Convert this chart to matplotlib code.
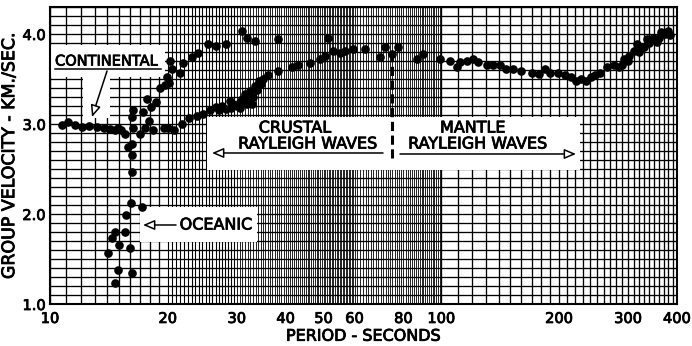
import numpy as np
import matplotlib
matplotlib.use("Agg")
import matplotlib.pyplot as plt
import matplotlib.patheffects as pe
from matplotlib.patches import Polygon, Rectangle

plt.rcParams['font.family'] = ['DejaVu Sans']

# ---------------- data (period s, group velocity km/s) ----------------
cont_period = [10.7, 11.1, 11.6, 12.05, 12.6, 13.15, 13.7, 14.2, 14.66, 14.95, 15.2, 15.55,
               17.0, 17.5, 18.3, 19.5, 20.0, 20.7, 21.7, 22.6, 23.7, 24.6, 25.6, 26.6,
               27.0, 27.5, 28.2, 28.8, 29.0, 29.4, 30.0, 30.5, 30.6, 31.0, 31.5, 31.8,
               32.0, 32.4, 32.8, 33.0, 33.4, 33.8, 34.1, 34.5, 35.1, 36.1, 38.3, 41.5,
               43.1, 46.1, 48.9, 50.4, 53.0]
cont_vel = [2.99, 3.02, 2.99, 2.97, 2.98, 2.97, 2.95, 2.94, 2.93, 2.96, 2.93, 2.89,
            2.89, 2.95, 2.93, 2.95, 2.96, 2.93, 3.00, 3.07, 3.09, 3.11, 3.15, 3.19,
            3.15, 3.20, 3.17, 3.26, 3.18, 3.22, 3.20, 3.18, 3.24, 3.28, 3.33, 3.22,
            3.28, 3.37, 3.22, 3.30, 3.42, 3.38, 3.48, 3.44, 3.50, 3.54, 3.59, 3.63,
            3.66, 3.68, 3.72, 3.76, 3.81]

fast_period = [17.7, 17.9, 18.1, 18.7, 19.1, 19.7, 19.9, 20.1, 20.2, 20.45, 21.5, 21.85,
               23.0, 23.9, 25.4, 26.6, 28.2, 30.9, 31.9, 33.4, 38.3, 51.4]
fast_vel = [3.28, 3.03, 3.19, 3.24, 3.40, 3.43, 3.52, 3.46, 3.70, 3.61, 3.57, 3.68,
            3.74, 3.79, 3.89, 3.87, 3.89, 4.03, 3.96, 3.92, 3.94, 3.95]

ocean_period = [16.2, 16.3, 17.3, 16.3, 15.85, 16.2, 16.2, 16.2, 16.1, 17.2, 15.6, 14.65,
                15.55, 14.4, 15.0, 14.1, 16.0, 14.95, 16.2, 14.66]
ocean_vel = [3.08, 3.16, 3.13, 2.95, 2.74, 2.78, 2.66, 2.47, 2.12, 2.08, 1.99, 1.80,
             1.80, 1.73, 1.65, 1.57, 1.62, 1.38, 1.34, 1.23]

mantle_period = [55.1, 56.8, 59.5, 63.9, 69.6, 71.8, 74.6, 77.6, 86.5, 89.9, 99.4, 105.5,
                 109.5, 111.8, 116.2, 120.8, 124.4, 130.6, 135.7, 141.0, 146.5, 152.3,
                 159.6, 170.6, 177.3, 184.2, 189.5, 198.9, 206.6, 214.6, 220.7, 227.1,
                 233.7, 240.6, 247.5, 254.8, 265.5, 276.1, 284.3, 290.0, 292.6, 300.0,
                 301.2, 310.0, 315.9, 320.0, 325.1, 330.0, 334.6, 340.0, 347.5, 354.6,
                 360.0, 365.0, 372.1, 380.0, 385.0]
mantle_vel = [3.79, 3.81, 3.83, 3.83, 3.74, 3.85, 3.78, 3.85, 3.72, 3.78, 3.72, 3.70,
              3.63, 3.69, 3.70, 3.72, 3.69, 3.65, 3.66, 3.65, 3.61, 3.61,
              3.59, 3.57, 3.56, 3.61, 3.57, 3.57, 3.54, 3.52, 3.48, 3.50,
              3.48, 3.52, 3.54, 3.57, 3.63, 3.66, 3.63, 3.65, 3.72, 3.70,
              3.76, 3.81, 3.89, 3.80, 3.85, 3.86, 3.94, 3.90, 3.96, 3.91,
              3.95, 4.02, 4.00, 4.03, 3.99]

xticks = [10, 20, 30, 40, 50, 60, 80, 100, 200, 300, 400]
xtick_labels = ["10", "20", "30", "40", "50", "60", "80", "100", "200", "300", "400"]
yticks = [1.0, 2.0, 3.0, 4.0]
ytick_labels = ["1.0", "2.0", "3.0", "4.0"]
boundary_period = 75

# ---------------- figure ----------------
fig = plt.figure(figsize=(6.92, 3.46), dpi=100)
ax = fig.add_axes([0.0723, 0.1214, 0.906, 0.8584])
ax.set_xscale('log')
ax.set_xlim(10, 400)
ax.set_ylim(1.0, 4.3)

# log-paper grid
sparse = np.concatenate([np.arange(10, 20, 1.0), np.arange(100, 400, 10.0)])
medium = np.arange(20, 30, 0.5)
dense = np.concatenate([np.arange(30, 60, 0.5), np.arange(60, 100, 1.0)])
for v in sparse:
    ax.axvline(v, color='black', lw=0.95, zorder=1)
for v in medium:
    ax.axvline(v, color='black', lw=0.8, zorder=1)
for v in dense:
    ax.axvline(v, color='black', lw=0.6, zorder=1)
for h in np.arange(1.0, 4.31, 0.1):
    ax.axhline(h, color='black', lw=0.95, zorder=1)

# white label boxes (axes fraction coords)
def px(xp, yp):
    return ((xp - 50) / 627.0, (304 - yp) / 297.0)

cont_poly = [px(50, 45), px(165, 45), px(165, 77), px(110, 77), px(110, 118),
             px(83, 118), px(83, 77), px(50, 77)]
ax.add_patch(Polygon(cont_poly, closed=True, transform=ax.transAxes,
                     facecolor='white', edgecolor='none', zorder=2))
x0, y0 = px(207, 170); x1, y1 = px(580, 117)
ax.add_patch(Rectangle((x0, y0), x1 - x0, y1 - y0, transform=ax.transAxes,
                       facecolor='white', edgecolor='none', zorder=2))
x0, y0 = px(140, 242); x1, y1 = px(257, 207)
ax.add_patch(Rectangle((x0, y0), x1 - x0, y1 - y0, transform=ax.transAxes,
                       facecolor='white', edgecolor='none', zorder=2))

# data points
mk = dict(marker='o', ls='none', ms=5.2, color='black', zorder=5)
ax.plot(cont_period, cont_vel, **mk)
ax.plot(fast_period, fast_vel, **mk)
ax.plot(ocean_period, ocean_vel, **mk)
ax.plot(mantle_period, mantle_vel, **mk)

# boundary dashed line
ax.plot([boundary_period, boundary_period], [2.62, 3.76], color='black', lw=2.2,
        ls=(0, (3, 1.5)), zorder=4)

thick = [pe.withStroke(linewidth=0.6, foreground='black')]
tf = dict(color='black', zorder=6, path_effects=thick)
ax.text(*px(55, 61), "CONTINENTAL", transform=ax.transAxes, ha='left', va='center',
        fontsize=10.5, **tf)
ax.plot(*zip(px(55, 69), px(161, 69)), transform=ax.transAxes, color='black', lw=1.1, zorder=6)
ax.text(*px(295, 128), "CRUSTAL", transform=ax.transAxes, ha='center', va='center',
        fontsize=11.5, **tf)
ax.text(*px(308, 144), "RAYLEIGH WAVES", transform=ax.transAxes, ha='center', va='center',
        fontsize=11.5, **tf)
ax.text(*px(473, 128), "MANTLE", transform=ax.transAxes, ha='center', va='center',
        fontsize=11.5, **tf)
ax.text(*px(478, 144), "RAYLEIGH WAVES", transform=ax.transAxes, ha='center', va='center',
        fontsize=11.5, **tf)
ax.text(*px(216, 225), "OCEANIC", transform=ax.transAxes, ha='center', va='center',
        fontsize=11.5, **tf)

ap = dict(arrowstyle='-|>,head_length=0.7,head_width=0.3', fc='white', ec='black',
          lw=1.1, shrinkA=0, shrinkB=0)
ax.annotate("", xy=px(212, 153), xytext=px(383, 153), xycoords='axes fraction',
            textcoords='axes fraction', arrowprops=ap, zorder=6)
ax.annotate("", xy=px(576, 154), xytext=px(400, 154), xycoords='axes fraction',
            textcoords='axes fraction', arrowprops=ap, zorder=6)
ax.annotate("", xy=px(143, 225), xytext=px(176, 225), xycoords='axes fraction',
            textcoords='axes fraction', arrowprops=ap, zorder=6)
ax.annotate("", xy=px(92, 117), xytext=px(107, 71), xycoords='axes fraction',
            textcoords='axes fraction', arrowprops=ap, zorder=6)

# axes
ax.set_xticks(xticks)
ax.set_xticklabels(xtick_labels)
ax.xaxis.set_minor_locator(matplotlib.ticker.NullLocator())
ax.set_yticks(yticks)
ax.set_yticklabels(ytick_labels)
ax.tick_params(axis='both', length=0, labelsize=10.5, pad=3)
ax.tick_params(axis='x', pad=5)
for lab in ax.get_xticklabels() + ax.get_yticklabels():
    lab.set_path_effects(thick)
for s in ax.spines.values():
    s.set_linewidth(1.5)
    s.set_zorder(7)
ax.set_xlabel("PERIOD - SECONDS", fontsize=11.5, labelpad=2, path_effects=thick)
ax.set_ylabel("GROUP VELOCITY - KM./SEC.", fontsize=12.5, labelpad=3, path_effects=thick)

fig.savefig("out.png", dpi=100)
